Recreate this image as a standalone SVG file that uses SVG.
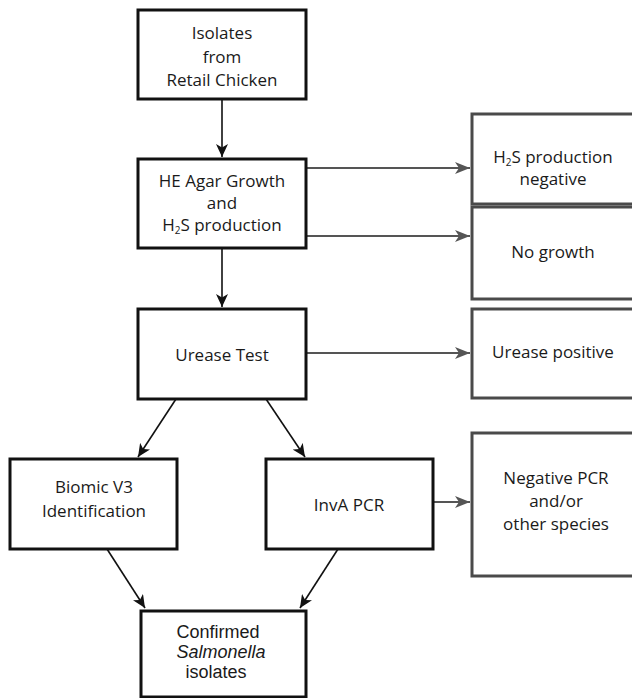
<svg xmlns="http://www.w3.org/2000/svg" width="632" height="698" viewBox="0 0 632 698">
<style>
.bk{fill:#fff;stroke:#111;stroke-width:3}
.gb{fill:#fff;stroke:#4a4a4a;stroke-width:3}
.t{font-family:"Open Sans","Noto Sans","DejaVu Sans",sans-serif;font-size:17px;fill:#1a1a1a;text-anchor:middle}
.a{font-family:"Liberation Sans",Arial,sans-serif;font-size:18px;fill:#1a1a1a;text-anchor:middle}
.cb{stroke:#111;stroke-width:1.6;fill:none}
.cg{stroke:#555;stroke-width:1.8;fill:none}
</style>
<defs>
<marker id="ah" markerUnits="userSpaceOnUse" markerWidth="14" markerHeight="12" refX="13" refY="6" orient="auto">
<path d="M0,0 L13,6 L0,12 L3.5,6 z" fill="#111"/>
</marker>
<marker id="ag" markerUnits="userSpaceOnUse" markerWidth="16" markerHeight="12" refX="15" refY="6" orient="auto">
<path d="M0,0 L15,6 L0,12 L4,6 z" fill="#555"/>
</marker>
</defs>
<rect width="632" height="698" fill="#fff"/>
<g id="connectors">
<line class="cb" x1="222" y1="99" x2="222" y2="157" marker-end="url(#ah)"/>
<line class="cb" x1="222" y1="248" x2="222" y2="307" marker-end="url(#ah)"/>
<line class="cg" x1="306" y1="168" x2="470" y2="168" marker-end="url(#ag)"/>
<line class="cg" x1="306" y1="236" x2="470" y2="236" marker-end="url(#ag)"/>
<line class="cg" x1="306" y1="353" x2="470" y2="353" marker-end="url(#ag)"/>
<line class="cb" x1="176" y1="399" x2="138" y2="457" marker-end="url(#ah)"/>
<line class="cb" x1="266" y1="399" x2="305" y2="457" marker-end="url(#ah)"/>
<line class="cg" x1="433" y1="502" x2="470" y2="502" marker-end="url(#ag)"/>
<line class="cb" x1="107" y1="549" x2="145" y2="608" marker-end="url(#ah)"/>
<line class="cb" x1="338" y1="549" x2="300" y2="608" marker-end="url(#ah)"/>
</g>
<g id="isolates">
<rect class="bk" x="138" y="10" width="168" height="89"/>
<text class="t" x="222" y="39">Isolates</text>
<text class="t" x="222" y="63">from</text>
<text class="t" x="222" y="86">Retail Chicken</text>
</g>
<g id="he-agar">
<rect class="bk" x="138" y="159" width="168" height="89"/>
<text class="t" x="222" y="187">HE Agar Growth</text>
<text class="t" x="222" y="209">and</text>
<text class="t" x="222" y="231">H<tspan font-size="10" dy="3">2</tspan><tspan dy="-3">S production</tspan></text>
</g>
<g id="h2s-negative">
<rect class="gb" x="472" y="114" width="170" height="90"/>
<text class="t" x="553" y="163">H<tspan font-size="10" dy="3">2</tspan><tspan dy="-3">S production</tspan></text>
<text class="t" x="553" y="185">negative</text>
</g>
<g id="no-growth">
<rect class="gb" x="472" y="207" width="170" height="92"/>
<text class="t" x="553" y="258">No growth</text>
</g>
<g id="urease-test">
<rect class="bk" x="138" y="309" width="168" height="90"/>
<text class="t" x="222" y="361">Urease Test</text>
</g>
<g id="urease-positive">
<rect class="gb" x="472" y="309" width="170" height="89"/>
<text class="t" x="553" y="358">Urease positive</text>
</g>
<g id="biomic">
<rect class="bk" x="10" y="459" width="167" height="90"/>
<text class="t" x="94" y="493">Biomic V3</text>
<text class="t" x="94" y="517">Identification</text>
</g>
<g id="inva">
<rect class="bk" x="266" y="459" width="167" height="90"/>
<text class="t" x="349" y="511">InvA PCR</text>
</g>
<g id="negative-pcr">
<rect class="gb" x="472" y="433" width="170" height="143"/>
<text class="t" x="556" y="484">Negative PCR</text>
<text class="t" x="556" y="507">and/or</text>
<text class="t" x="556" y="530">other species</text>
</g>
<g id="confirmed">
<rect class="bk" x="141" y="611" width="165" height="86"/>
<text class="a" x="218" y="638">Confirmed</text>
<text class="a" x="221" y="658" font-style="italic">Salmonella</text>
<text class="a" x="216" y="678">isolates</text>
</g>
</svg>
